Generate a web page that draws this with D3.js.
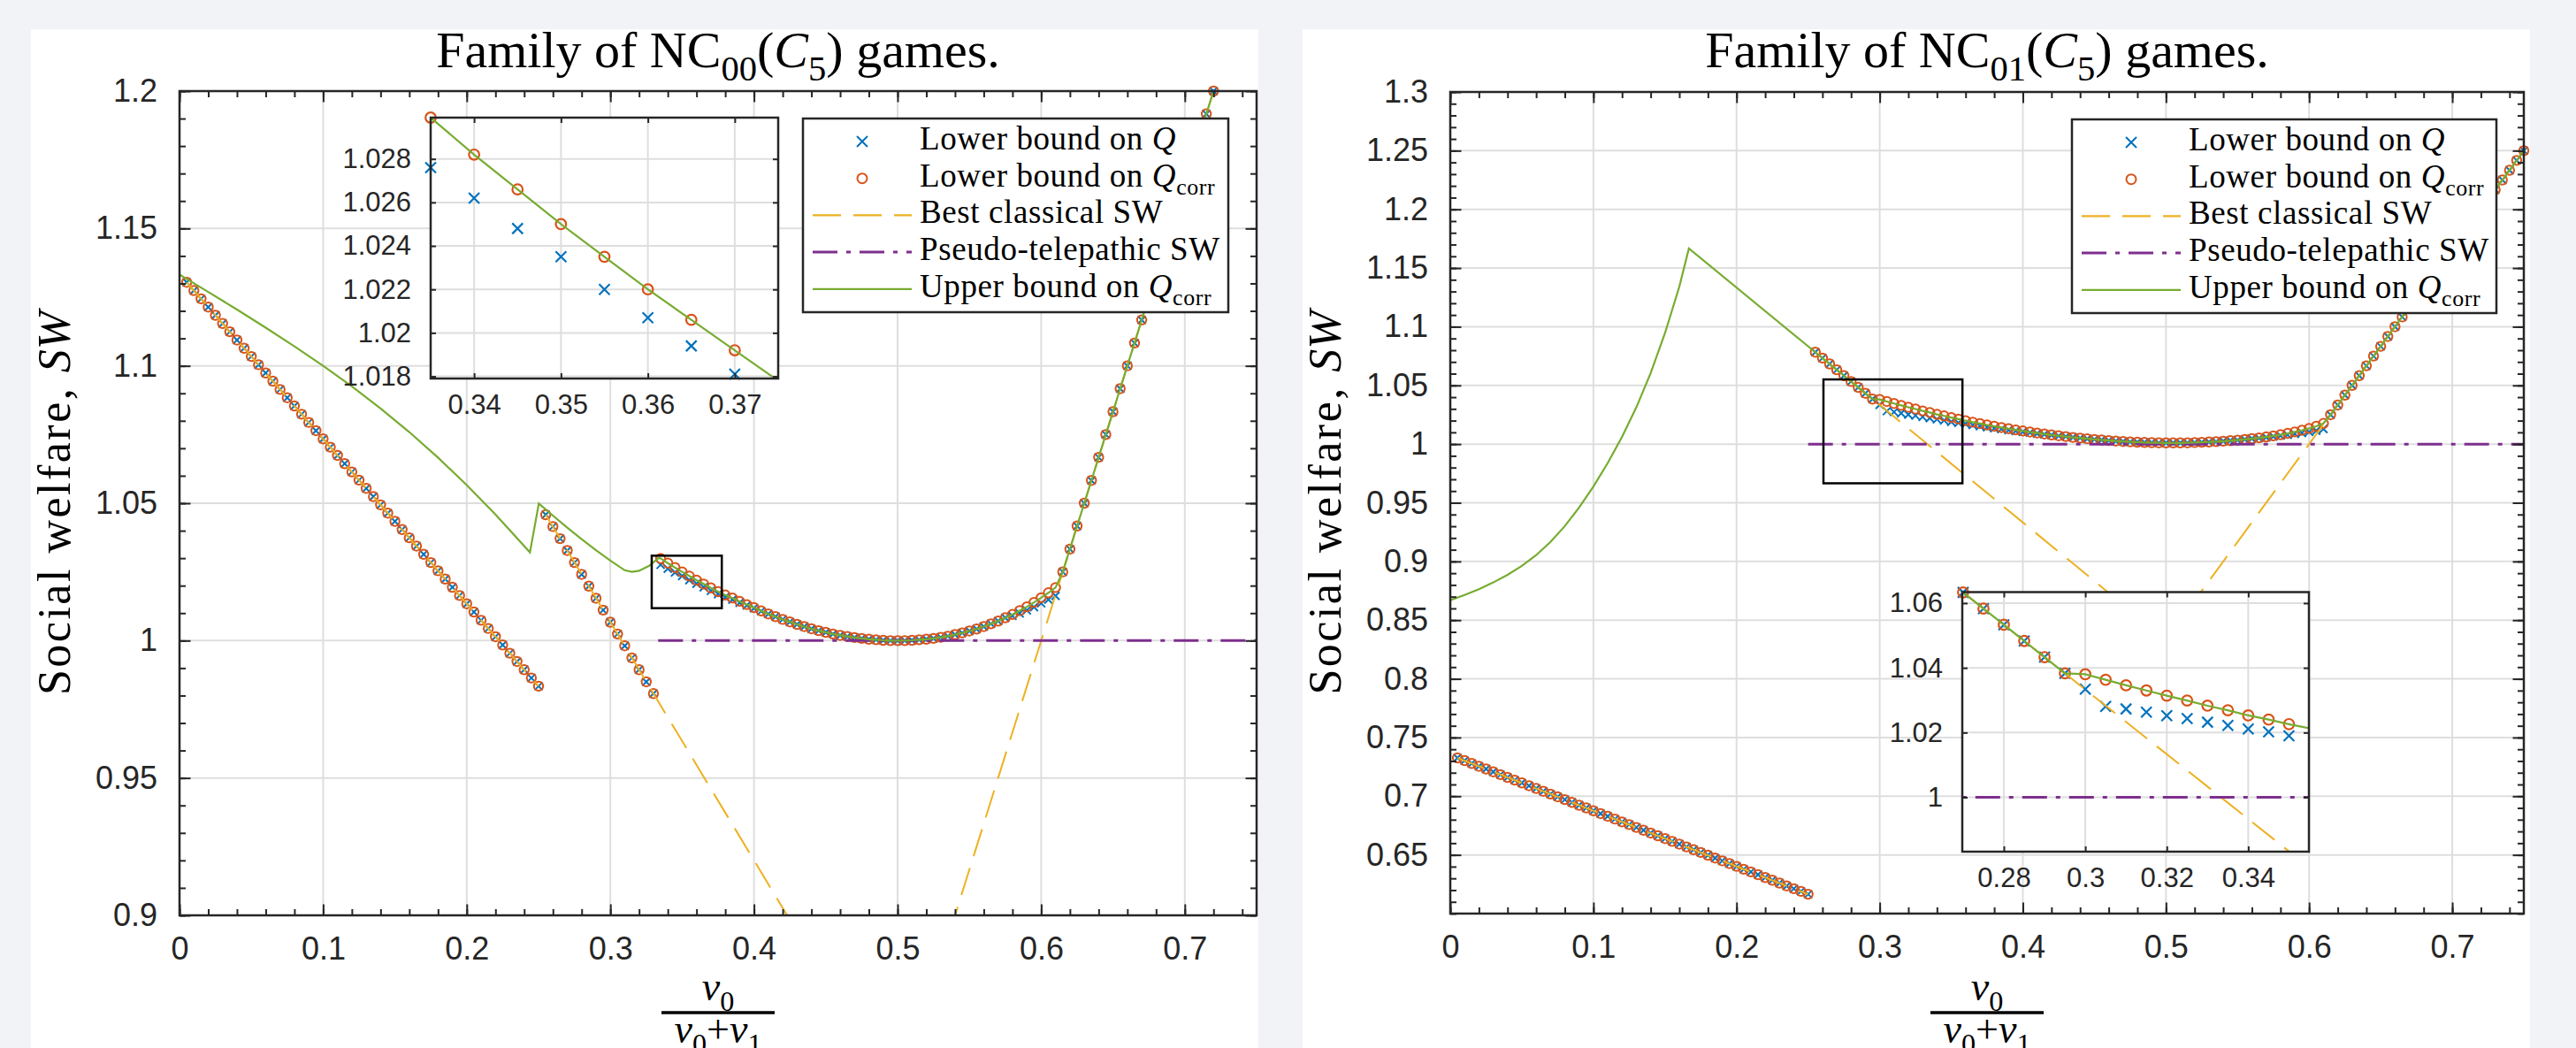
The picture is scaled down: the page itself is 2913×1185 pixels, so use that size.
<!DOCTYPE html>
<html>
<head>
<meta charset="utf-8">
<title>Family of NC(C5) games</title>
<script src="https://cdn.jsdelivr.net/npm/d3@7/dist/d3.min.js"></script>
<style>
  body { margin: 0; background: #f2f3f7; }
  svg { display: block; }
</style>
</head>
<body>
<svg id="chart" width="2913" height="1185"></svg>
<script>
// sample grids along v0/(v0+v1)
var gridA = [0.005,0.01,0.015,0.02,0.025,0.03,0.035,0.04,0.045,0.05,
  0.055,0.06,0.065,0.07,0.075,0.08,0.085,0.09,0.095,0.1,
  0.105,0.11,0.115,0.12,0.125,0.13,0.135,0.14,0.145,0.15,
  0.155,0.16,0.165,0.17,0.175,0.18,0.185,0.19,0.195,0.2,
  0.205,0.21,0.215,0.22,0.225,0.23,0.235,0.24,0.245,0.25];
var gridB = [0.255,0.26,0.265,0.27,0.275,0.28,0.285,0.29,0.295,0.3,0.305,0.31,0.315,0.32,0.325,0.33];
var gridC = [0.335,0.34,0.345,0.35,0.355,0.36,0.365,0.37,0.375,0.38,
  0.385,0.39,0.395,0.4,0.405,0.41,0.415,0.42,0.425,0.43,
  0.435,0.44,0.445,0.45,0.455,0.46,0.465,0.47,0.475,0.48,
  0.485,0.49,0.495,0.5,0.505,0.51,0.515,0.52,0.525,0.53,
  0.535,0.54,0.545,0.55,0.555,0.56,0.565,0.57,0.575,0.58,
  0.585,0.59,0.595,0.6,0.605,0.61];
var gridD = [0.615,0.62,0.625,0.63,0.635,0.64,0.645,0.65,0.655,0.66,
  0.665,0.67,0.675,0.68,0.685,0.69,0.695,0.7,0.705,0.71,
  0.715,0.72,0.725,0.73,0.735,0.74,0.745,0.75];

// ---- NC00(C5) ----
// lower bounds on Q and Qcorr agree on gridA, gridB and gridD
var leftA = [1.1304,1.1274,1.1244,1.1214,1.1184,1.1154,1.1124,1.1094,1.1064,1.1034,
  1.1004,1.0974,1.0944,1.0914,1.0884,1.0854,1.0824,1.0794,1.0764,1.0734,
  1.0704,1.0674,1.0644,1.0614,1.0584,1.0554,1.0524,1.0494,1.0464,1.0434,
  1.0404,1.0374,1.0344,1.0314,1.0284,1.0254,1.0224,1.0194,1.0164,1.0134,
  1.0104,1.0074,1.0044,1.0014,0.9984,0.9954,0.9924,0.9894,0.9864,0.9834];
var leftB = [1.0458,1.0415,1.0371,1.0328,1.0284,1.0241,1.0198,1.0154,1.0111,1.0067,
  1.0024,0.9981,0.9937,0.9894,0.9850,0.9807];
var leftQcorrC = [1.0299,1.0282,1.0266,1.0250,1.0235,1.0220,1.0206,1.0192,1.0178,1.0166,
  1.0155,1.0143,1.0131,1.0120,1.0108,1.0097,1.0087,1.0077,1.0068,1.0059,
  1.0051,1.0043,1.0036,1.0030,1.0024,1.0019,1.0015,1.0011,1.0008,1.0005,
  1.0003,1.0001,1.0000,1.0000,1.0000,1.0001,1.0003,1.0005,1.0008,1.0012,
  1.0016,1.0022,1.0028,1.0035,1.0042,1.0051,1.0061,1.0071,1.0083,1.0095,
  1.0109,1.0123,1.0139,1.0156,1.0174,1.0193];
var leftQC = [1.0276,1.0262,1.0248,1.0235,1.0220,1.0207,1.0194,1.0181,1.0169,1.0158,
  1.0149,1.0138,1.0128,1.0118,1.0107,1.0097,1.0087,1.0077,1.0068,1.0059,
  1.0051,1.0043,1.0036,1.0030,1.0024,1.0019,1.0015,1.0011,1.0008,1.0005,
  1.0003,1.0001,1.0000,1.0000,1.0000,1.0001,1.0003,1.0005,1.0008,1.0012,
  1.0016,1.0022,1.0028,1.0035,1.0042,1.0051,1.0061,1.0071,1.0083,1.0090,
  1.0099,1.0110,1.0122,1.0136,1.0149,1.0163];
var leftD = [1.0250,1.0333,1.0417,1.0500,1.0583,1.0667,1.0750,1.0833,1.0917,1.1000,
  1.1083,1.1167,1.1250,1.1333,1.1417,1.1500,1.1583,1.1667,1.1750,1.1833,
  1.1917,1.2000];

// ---- NC01(C5) ----
var rightA = [0.7326,0.7303,0.7279,0.7255,0.7232,0.7208,0.7184,0.7160,0.7137,0.7113,
  0.7089,0.7066,0.7042,0.7018,0.6995,0.6971,0.6947,0.6923,0.6900,0.6876,
  0.6852,0.6829,0.6805,0.6781,0.6758,0.6734,0.6710,0.6686,0.6663,0.6639,
  0.6615,0.6592,0.6568,0.6544,0.6521,0.6497,0.6473,0.6449,0.6426,0.6402,
  0.6378,0.6355,0.6331,0.6307,0.6284,0.6260,0.6236,0.6212,0.6189,0.6165];
// on gridB followed by gridC
var rightQcorrC = [1.0783,1.0733,1.0683,1.0633,1.0583,1.0533,1.0483,1.0433,1.0383,1.0380,
  1.0363,1.0346,1.0330,1.0314,1.0299,1.0283,1.0269,1.0253,1.0240,1.0226,
  1.0213,1.0200,1.0187,1.0175,1.0163,1.0152,1.0141,1.0131,1.0121,1.0112,
  1.0103,1.0094,1.0086,1.0078,1.0071,1.0064,1.0057,1.0051,1.0045,1.0040,
  1.0035,1.0030,1.0026,1.0022,1.0019,1.0016,1.0014,1.0012,1.0011,1.0010,
  1.0010,1.0010,1.0011,1.0013,1.0015,1.0018,1.0021,1.0025,1.0029,1.0034,
  1.0040,1.0046,1.0053,1.0061,1.0070,1.0080,1.0091,1.0104,1.0118,1.0134,
  1.0152,1.0176];
var rightQC = [1.0783,1.0733,1.0683,1.0633,1.0583,1.0533,1.0483,1.0433,1.0383,1.0334,
  1.0281,1.0273,1.0263,1.0252,1.0243,1.0232,1.0222,1.0211,1.0202,1.0190,
  1.0181,1.0172,1.0162,1.0153,1.0144,1.0136,1.0128,1.0120,1.0112,1.0105,
  1.0098,1.0090,1.0083,1.0076,1.0070,1.0064,1.0057,1.0051,1.0045,1.0040,
  1.0035,1.0030,1.0026,1.0022,1.0019,1.0016,1.0014,1.0012,1.0011,1.0010,
  1.0010,1.0010,1.0011,1.0013,1.0015,1.0018,1.0021,1.0025,1.0029,1.0034,
  1.0040,1.0046,1.0051,1.0058,1.0065,1.0072,1.0079,1.0087,1.0095,1.0104,
  1.0114,1.0129];
var rightD = [1.0250,1.0333,1.0417,1.0500,1.0583,1.0667,1.0750,1.0833,1.0917,1.1000,
  1.1083,1.1167,1.1250,1.1333,1.1417,1.1500,1.1583,1.1667,1.1750,1.1833,
  1.1917,1.2000,1.2083,1.2167,1.2250,1.2333,1.2417,1.2500];

// best classical SW, break points (null = gap)
var classLeftX = [0.005, 0.25, null, 0.255, 0.5, 0.75];
var classLeftY = [1.1304, 0.9834, null, 1.0458, 0.8333, 1.25];
var classRightX = [0.005, 0.25, null, 0.255, 0.5, 0.75];
var classRightY = [0.7326, 0.6165, null, 1.0783, 0.8333, 1.25];

// pseudo-telepathic SW
var pseudoLeftX = [0.3333, 0.75];
var pseudoRightX = [0.25, 0.75];
var pseudoY = [1, 1];

// upper bound on Qcorr until it runs into the lower bound curve
var upperLeftX = [0,0.02,0.04,0.06,0.08,0.1,0.12,0.14,0.16,0.18,0.2,0.22,0.244,0.2502,
  0.26,0.27,0.28,0.29,0.3,0.31,0.315,0.32,0.327,0.3337];
var upperLeftY = [1.1332,1.1269,1.1205,1.1139,1.1071,1.1000,1.0925,1.0845,1.0759,1.0666,
  1.0566,1.0459,1.0321,1.0499,1.0455,1.0411,1.0369,1.0329,1.0291,1.0256,1.0250,1.0254,
  1.0272,1.0301];
var upperRightX = [0,0.01,0.02,0.03,0.04,0.05,0.06,0.07,0.08,0.09,0.1,0.11,0.12,0.13,
  0.14,0.15,0.16,0.1667];
var upperRightY = [0.8670,0.8714,0.8764,0.8821,0.8886,0.8962,0.9054,0.9166,0.9301,0.9459,
  0.9639,0.9839,1.0061,1.0313,1.0605,1.0945,1.1340,1.1667];

// ticks
var xTicks = [0,0.1,0.2,0.3,0.4,0.5,0.6,0.7];
var xTickLabels = ['0','0.1','0.2','0.3','0.4','0.5','0.6','0.7'];
var leftYTicks = [0.9,0.95,1,1.05,1.1,1.15,1.2];
var leftYLabels = ['0.9','0.95','1','1.05','1.1','1.15','1.2'];
var rightYTicks = [0.65,0.7,0.75,0.8,0.85,0.9,0.95,1,1.05,1.1,1.15,1.2,1.25,1.3];
var rightYLabels = ['0.65','0.7','0.75','0.8','0.85','0.9','0.95','1','1.05','1.1','1.15','1.2','1.25','1.3'];
var insetLeftXTicks = [0.34,0.35,0.36,0.37];
var insetLeftXLabels = ['0.34','0.35','0.36','0.37'];
var insetLeftYTicks = [1.018,1.02,1.022,1.024,1.026,1.028];
var insetLeftYLabels = ['1.018','1.02','1.022','1.024','1.026','1.028'];
var insetRightXTicks = [0.28,0.3,0.32,0.34];
var insetRightXLabels = ['0.28','0.3','0.32','0.34'];
var insetRightYTicks = [1,1.02,1.04,1.06];
var insetRightYLabels = ['1','1.02','1.04','1.06'];

// zoom rectangles [x0, x1, y0, y1]
var zoomLeft = [0.3288, 0.3776, 1.0118, 1.0309];
var zoomRight = [0.2607, 0.3578, 0.9666, 1.0551];

var legendNames = [
  [{t:'Lower bound on '},{t:'Q',it:1}],
  [{t:'Lower bound on '},{t:'Q',it:1},{t:'corr',sub:1}],
  [{t:'Best classical SW'}],
  [{t:'Pseudo-telepathic SW'}],
  [{t:'Upper bound on '},{t:'Q',it:1},{t:'corr',sub:1}]
];

var ink = '#262626';
var col = {q:'#0072BD', qcorr:'#D95319', classical:'#EDB120', pseudo:'#7E2F8E', upper:'#77AC30'};
var serif = 'Liberation Serif, Times New Roman, serif';
var sans = 'Liberation Sans, Arial, sans-serif';
var dashClassical = '32,14', dashPseudo = '28,10,5,10';

var svg = d3.select('#chart');
svg.append('rect').attr('width', 2913).attr('height', 1185).attr('fill', '#f2f3f7');

function pts(xs, ys) {
  return ys.map(function(v, i) { return [xs[i], v]; });
}

// text with italic parts and subscripts
function rich(sel, parts, size, spacing) {
  var shift = 0;
  parts.forEach(function(p) {
    var target = p.sub ? size * 0.26 : 0;
    sel.append('tspan').text(p.t)
      .attr('dy', target - shift)
      .attr('font-size', p.sub ? size * 0.7 : size)
      .attr('font-style', p.it ? 'italic' : 'normal')
      .attr('letter-spacing', spacing || 0);
    shift = target;
  });
}

var clipCount = 0;
function makeAxes(box, xDom, yDom, o) {
  var w = box[2] - box[0], h = box[3] - box[1];
  var x = d3.scaleLinear().domain(xDom).range([0, w]);
  var y = d3.scaleLinear().domain(yDom).range([h, 0]);
  var g = svg.append('g').attr('transform', 'translate(' + box[0] + ',' + box[1] + ')');
  g.append('rect').attr('width', w).attr('height', h).attr('fill', '#fff');
  var id = 'clip' + (clipCount++);
  g.append('clipPath').attr('id', id).append('rect').attr('width', w).attr('height', h);

  // grid
  var grid = g.append('g').attr('stroke', '#dedede').attr('stroke-width', 2);
  grid.selectAll(null).data(o.xTicks).join('line')
    .attr('x1', function(d) { return x(d); }).attr('x2', function(d) { return x(d); })
    .attr('y1', 0).attr('y2', h);
  grid.selectAll(null).data(o.yTicks).join('line')
    .attr('y1', function(d) { return y(d); }).attr('y2', function(d) { return y(d); })
    .attr('x1', 0).attr('x2', w);

  var data = g.append('g');

  function styleAxis(a) {
    a.attr('font-family', sans).attr('font-size', o.font);
    a.select('.domain').remove();
    a.selectAll('line').attr('stroke', ink).attr('stroke-width', 2);
    a.selectAll('text').attr('fill', ink);
  }
  var none = function() { return ''; };
  var axes = g.append('g');
  axes.append('g').attr('transform', 'translate(0,' + h + ')')
    .call(d3.axisBottom(x).tickValues(o.xTicks).tickSize(-o.major).tickPadding(o.padX)
      .tickFormat(function(d, i) { return o.xLabels[i]; }))
    .call(styleAxis);
  axes.append('g')
    .call(d3.axisLeft(y).tickValues(o.yTicks).tickSize(-o.major).tickPadding(o.padY)
      .tickFormat(function(d, i) { return o.yLabels[i]; }))
    .call(styleAxis);
  axes.append('g').call(d3.axisTop(x).tickValues(o.xTicks).tickSize(-o.major).tickFormat(none)).call(styleAxis);
  axes.append('g').attr('transform', 'translate(' + w + ',0)')
    .call(d3.axisRight(y).tickValues(o.yTicks).tickSize(-o.major).tickFormat(none)).call(styleAxis);
  if (o.xMinor) {
    axes.append('g').attr('transform', 'translate(0,' + h + ')')
      .call(d3.axisBottom(x).tickValues(o.xMinor).tickSize(-o.minor).tickFormat(none)).call(styleAxis);
    axes.append('g').call(d3.axisTop(x).tickValues(o.xMinor).tickSize(-o.minor).tickFormat(none)).call(styleAxis);
    axes.append('g').call(d3.axisLeft(y).tickValues(o.yMinor).tickSize(-o.minor).tickFormat(none)).call(styleAxis);
    axes.append('g').attr('transform', 'translate(' + w + ',0)')
      .call(d3.axisRight(y).tickValues(o.yMinor).tickSize(-o.minor).tickFormat(none)).call(styleAxis);
  }
  g.append('rect').attr('width', w).attr('height', h).attr('fill', 'none')
    .attr('stroke', ink).attr('stroke-width', 2.5);

  return {g: g, x: x, y: y, data: data, clip: 'url(#' + id + ')', w: w, h: h};
}

function drawSeries(ax, s, mk) {
  var xd = ax.x.domain(), yd = ax.y.domain(), eps = 1e-6;
  function inside(d) {
    return d[0] >= xd[0] - eps && d[0] <= xd[1] + eps && d[1] >= yd[0] - eps && d[1] <= yd[1] + eps;
  }
  var line = d3.line()
    .defined(function(d) { return d[0] !== null && d[1] !== null; })
    .x(function(d) { return ax.x(d[0]); })
    .y(function(d) { return ax.y(d[1]); });
  var k = mk.x;
  ax.data.selectAll(null).data(s.q.filter(inside)).join('path')
    .attr('d', 'M' + (-k) + ',' + (-k) + 'L' + k + ',' + k + 'M' + (-k) + ',' + k + 'L' + k + ',' + (-k))
    .attr('transform', function(d) { return 'translate(' + ax.x(d[0]) + ',' + ax.y(d[1]) + ')'; })
    .attr('fill', 'none').attr('stroke', col.q).attr('stroke-width', mk.w);
  ax.data.selectAll(null).data(s.qcorr.filter(inside)).join('circle')
    .attr('cx', function(d) { return ax.x(d[0]); })
    .attr('cy', function(d) { return ax.y(d[1]); })
    .attr('r', mk.r)
    .attr('fill', 'none').attr('stroke', col.qcorr).attr('stroke-width', mk.w);
  ax.data.append('path').datum(s.classical).attr('d', line).attr('clip-path', ax.clip)
    .attr('fill', 'none').attr('stroke', col.classical).attr('stroke-width', 2)
    .attr('stroke-dasharray', dashClassical);
  ax.data.append('path').datum(s.pseudo).attr('d', line).attr('clip-path', ax.clip)
    .attr('fill', 'none').attr('stroke', col.pseudo).attr('stroke-width', 3)
    .attr('stroke-dasharray', dashPseudo);
  ax.data.append('path').datum(s.upper).attr('d', line).attr('clip-path', ax.clip)
    .attr('fill', 'none').attr('stroke', col.upper).attr('stroke-width', 2.2);
}

function drawLegend(x0, y0, w, h) {
  var g = svg.append('g').attr('transform', 'translate(' + x0 + ',' + y0 + ')');
  g.append('rect').attr('width', w).attr('height', h).attr('fill', '#fff')
    .attr('stroke', ink).attr('stroke-width', 2.5);
  legendNames.forEach(function(parts, i) {
    var cy = 26 + i * 41.7;
    if (i === 0) {
      g.append('path').attr('d', 'M-6,-6L6,6M-6,6L6,-6')
        .attr('transform', 'translate(67,' + cy + ')')
        .attr('fill', 'none').attr('stroke', col.q).attr('stroke-width', 2);
    } else if (i === 1) {
      g.append('circle').attr('cx', 67).attr('cy', cy).attr('r', 5.5)
        .attr('fill', 'none').attr('stroke', col.qcorr).attr('stroke-width', 2);
    } else {
      var key = ['', '', 'classical', 'pseudo', 'upper'][i];
      g.append('line').attr('x1', 11).attr('x2', 123).attr('y1', cy).attr('y2', cy)
        .attr('stroke', col[key]).attr('stroke-width', key === 'pseudo' ? 3 : 2.2)
        .attr('stroke-dasharray', key === 'classical' ? dashClassical : key === 'pseudo' ? dashPseudo : null);
    }
    var t = g.append('text').attr('x', 132).attr('y', cy + 9)
      .attr('font-family', serif).attr('fill', '#000');
    rich(t, parts, 37, 0.6);
  });
}

function drawPanel(p) {
  svg.append('rect').attr('x', p.bg[0]).attr('y', 33).attr('width', p.bg[1] - p.bg[0])
    .attr('height', 1185 - 33).attr('fill', '#fff');

  var main = makeAxes(p.box, [0, 0.75], p.yDom, {
    xTicks: xTicks, xLabels: xTickLabels, yTicks: p.yTicks, yLabels: p.yLabels,
    xMinor: d3.range(0, 0.7501, 0.02), yMinor: d3.range(p.yDom[0], p.yDom[1] + 0.0001, 0.01),
    major: 12.5, minor: 7, font: 36, padX: 24, padY: 25
  });
  drawSeries(main, p.series, {x: 4.5, r: 5.2, w: 2});
  // zoom window marker
  main.data.append('rect')
    .attr('x', main.x(p.zoom[0])).attr('y', main.y(p.zoom[3]))
    .attr('width', main.x(p.zoom[1]) - main.x(p.zoom[0]))
    .attr('height', main.y(p.zoom[2]) - main.y(p.zoom[3]))
    .attr('fill', 'none').attr('stroke', '#000').attr('stroke-width', 2.5);

  var inset = makeAxes(p.inset.box, p.inset.xDom, p.inset.yDom, {
    xTicks: p.inset.xTicks, xLabels: p.inset.xLabels, yTicks: p.inset.yTicks, yLabels: p.inset.yLabels,
    major: 6, font: 31, padX: 18, padY: 22
  });
  drawSeries(inset, p.series, {x: 6, r: 5.8, w: 2.2});

  drawLegend(p.legend[0], p.legend[1], p.legend[2], p.legend[3]);

  var cx = (p.box[0] + p.box[2]) / 2;
  var title = svg.append('text').attr('x', cx).attr('y', 76).attr('text-anchor', 'middle')
    .attr('font-family', serif).attr('fill', '#000');
  rich(title, [{t:'Family of NC'},{t:p.sub,sub:1},{t:'('},{t:'C',it:1},{t:'5',sub:1},{t:') games.'}], 58);

  // y label
  var ly = (p.box[1] + p.box[3]) / 2;
  var yl = svg.append('text')
    .attr('transform', 'translate(' + (p.box[0] - 124) + ',' + ly + ') rotate(-90)')
    .attr('text-anchor', 'middle').attr('font-family', serif).attr('fill', '#000');
  yl.append('tspan').text('Social welfare, ').attr('font-size', 52).attr('letter-spacing', 2.5);
  yl.append('tspan').text('SW').attr('font-size', 52).attr('font-style', 'italic');

  // x label as a fraction
  var num = svg.append('text').attr('x', cx).attr('y', 1131).attr('text-anchor', 'middle')
    .attr('font-family', serif).attr('fill', '#000');
  rich(num, [{t:'v',it:1},{t:'0',sub:1}], 46);
  svg.append('line').attr('x1', cx - 64).attr('x2', cx + 64).attr('y1', 1145).attr('y2', 1145)
    .attr('stroke', '#000').attr('stroke-width', 3.5);
  var den = svg.append('text').attr('x', cx).attr('y', 1179).attr('text-anchor', 'middle')
    .attr('font-family', serif).attr('fill', '#000');
  rich(den, [{t:'v',it:1},{t:'0',sub:1},{t:'+'},{t:'v',it:1},{t:'1',sub:1}], 46);
}

var gridBC = gridB.concat(gridC);

drawPanel({
  bg: [35, 1423],
  box: [203, 103, 1421, 1035],
  yDom: [0.9, 1.2], yTicks: leftYTicks, yLabels: leftYLabels,
  sub: '00',
  series: {
    q: pts(gridA, leftA).concat(pts(gridB, leftB), pts(gridC, leftQC), pts(gridD, leftD)),
    qcorr: pts(gridA, leftA).concat(pts(gridB, leftB), pts(gridC, leftQcorrC), pts(gridD, leftD)),
    classical: pts(classLeftX, classLeftY),
    pseudo: pts(pseudoLeftX, pseudoY),
    upper: pts(upperLeftX, upperLeftY).concat(pts(gridC, leftQcorrC), pts(gridD, leftD))
  },
  zoom: zoomLeft,
  inset: {
    box: [487, 133, 880, 428], xDom: [0.335, 0.375], yDom: [1.0179, 1.0299],
    xTicks: insetLeftXTicks, xLabels: insetLeftXLabels, yTicks: insetLeftYTicks, yLabels: insetLeftYLabels
  },
  legend: [908, 134, 481, 219]
});

drawPanel({
  bg: [1473, 2861],
  box: [1640, 104, 2854, 1033],
  yDom: [0.6, 1.3], yTicks: rightYTicks, yLabels: rightYLabels,
  sub: '01',
  series: {
    q: pts(gridA, rightA).concat(pts(gridBC, rightQC), pts(gridD, rightD)),
    qcorr: pts(gridA, rightA).concat(pts(gridBC, rightQcorrC), pts(gridD, rightD)),
    classical: pts(classRightX, classRightY),
    pseudo: pts(pseudoRightX, pseudoY),
    upper: pts(upperRightX, upperRightY).concat(pts(gridBC, rightQcorrC), pts(gridD, rightD))
  },
  zoom: zoomRight,
  inset: {
    box: [2219, 669.5, 2611, 963], xDom: [0.2698, 0.3549], yDom: [0.9832, 1.0634],
    xTicks: insetRightXTicks, xLabels: insetRightXLabels, yTicks: insetRightYTicks, yLabels: insetRightYLabels
  },
  legend: [2343, 135, 480, 219]
});
</script>
</body>
</html>
